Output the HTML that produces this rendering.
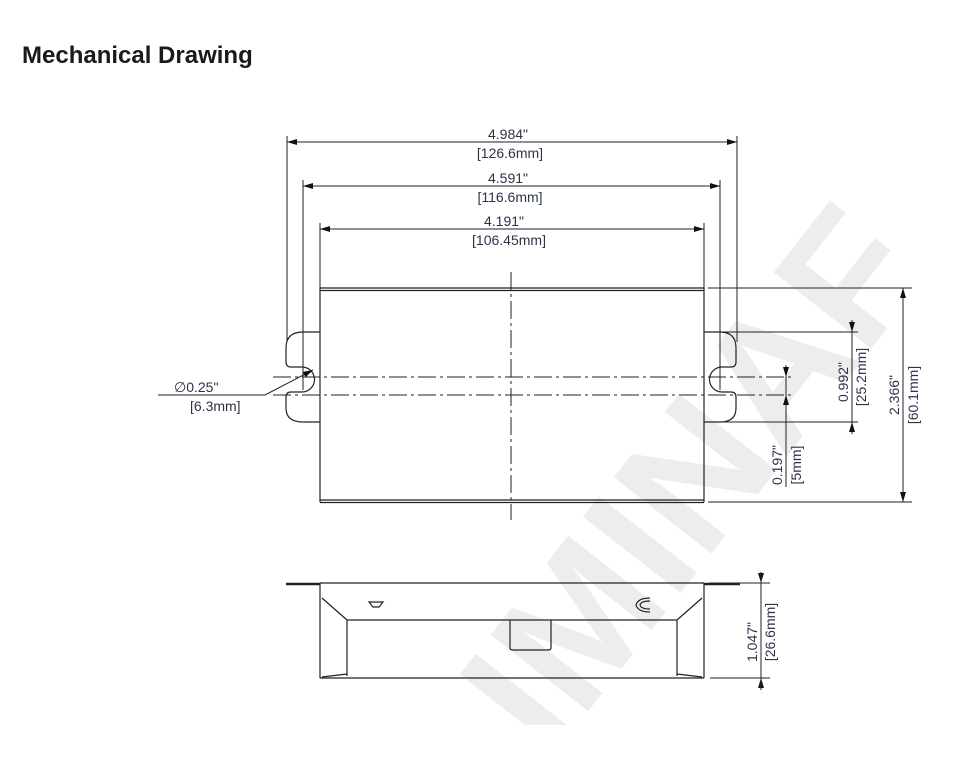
<!DOCTYPE html>
<html><head><meta charset="utf-8"><style>
body{margin:0;background:#fff;width:960px;height:760px;overflow:hidden;position:relative;font-family:"Liberation Sans",sans-serif}
h1{position:absolute;left:22px;top:42px;margin:0;font-size:24px;font-weight:bold;color:#1a1a1a}
svg{position:absolute;left:0;top:0}
</style></head><body>
<svg width="960" height="760" viewBox="0 0 960 760" overflow="hidden">
<defs>
<marker id="e" viewBox="0 0 10 6" refX="10" refY="3" markerWidth="10" markerHeight="6" orient="auto" markerUnits="userSpaceOnUse"><path d="M0,0L10,3L0,6z" fill="#111"/></marker>
<marker id="s" viewBox="0 0 10 6" refX="0" refY="3" markerWidth="10" markerHeight="6" orient="auto" markerUnits="userSpaceOnUse"><path d="M10,0L0,3L10,6z" fill="#111"/></marker>
<clipPath id="c"><rect x="0" y="0" width="940" height="725"/></clipPath>
</defs>
<g fill="#ededed" clip-path="url(#c)">
<text x="0" y="0" font-family="Liberation Sans" font-weight="bold" font-size="180" transform="translate(550,760) rotate(-52)">IMINAF</text>
</g>
<g stroke="#222" stroke-width="1.2" fill="none">
<path d="M320,288H704M320,290.5H704M320,500H704M320,502.5H704"/>
<path d="M320,288V502M704,288V502"/>
<path d="M320,332H303Q286,332 286,348V362Q286,367 291,367H302A12.5,12.5 0 0 1 302,392H291Q286,392 286,397V408Q286,422 303,422H320"/>
<path d="M704,332H720Q736,332 736,348V362Q736,367 731,367H722A12.5,12.5 0 0 0 722,392H731Q736,392 736,397V408Q736,422 720,422H704"/>
<path stroke-width="1" d="M287,136V342M303,180V390M320,223V288M737,136V342M720,180V390M704,223V288"/>
<path stroke-width="1" d="M708,288H912M708,502H912M704,332H858M704,422H858"/>
<path stroke-width="1" stroke-dasharray="18,4,3,4" d="M273,377H792M273,395H792M511,272V520"/>
<g stroke-width="1" marker-start="url(#s)" marker-end="url(#e)">
<path d="M287,142H737"/><path d="M303,186H720"/><path d="M320,229H704"/><path d="M903,288V502"/>
</g>
<path stroke-width="1" d="M852,320V434M786,365V487"/>
<g stroke-width="1" marker-end="url(#e)">
<path d="M852,320V332"/><path d="M852,434V422"/><path d="M786,365V377"/><path d="M786,407V395"/>
<path d="M761,572V583"/><path d="M761,690V678"/>
</g>
<path stroke-width="1" d="M158,395H265L313,370" marker-end="url(#e)"/>
<path d="M320,583H704M320,583V678M704,583V678M320,678H704"/>
<path stroke-width="2.5" d="M286,584H320M704,584H740"/>
<path d="M322,598L347,620H677L702,598M347,620V676M677,620V676M322,677L347,674M702,677L677,674"/>
<path d="M510,620V648Q510,650 513,650H548Q551,650 551,648V620"/>
<path d="M369,602H383L379,607H373Z"/>
<path d="M650,598Q638,598 636,605Q638,612 650,612M650,601Q641,601 640,605Q641,609 650,609"/>
<path stroke-width="1" d="M710,583H770M710,678H770M761,572V690"/>
</g>
<g font-family="Liberation Sans" font-size="14" fill="#2b3348" text-anchor="middle">
<text x="508" y="139">4.984"</text><text x="510" y="158">[126.6mm]</text>
<text x="508" y="183">4.591"</text><text x="510" y="202">[116.6mm]</text>
<text x="504" y="226">4.191"</text><text x="509" y="245">[106.45mm]</text>
<text text-anchor="start" x="174" y="392">∅0.25"</text><text text-anchor="start" x="190" y="411">[6.3mm]</text>
<text transform="translate(899,395) rotate(-90)">2.366"</text><text transform="translate(918,395) rotate(-90)">[60.1mm]</text>
<text transform="translate(848,382) rotate(-90)">0.992"</text><text transform="translate(866,377) rotate(-90)">[25.2mm]</text>
<text transform="translate(782,465) rotate(-90)">0.197"</text><text transform="translate(801,465) rotate(-90)">[5mm]</text>
<text transform="translate(757,642) rotate(-90)">1.047"</text><text transform="translate(775,632) rotate(-90)">[26.6mm]</text>
</g>
</svg>
<h1>Mechanical Drawing</h1>
</body></html>
